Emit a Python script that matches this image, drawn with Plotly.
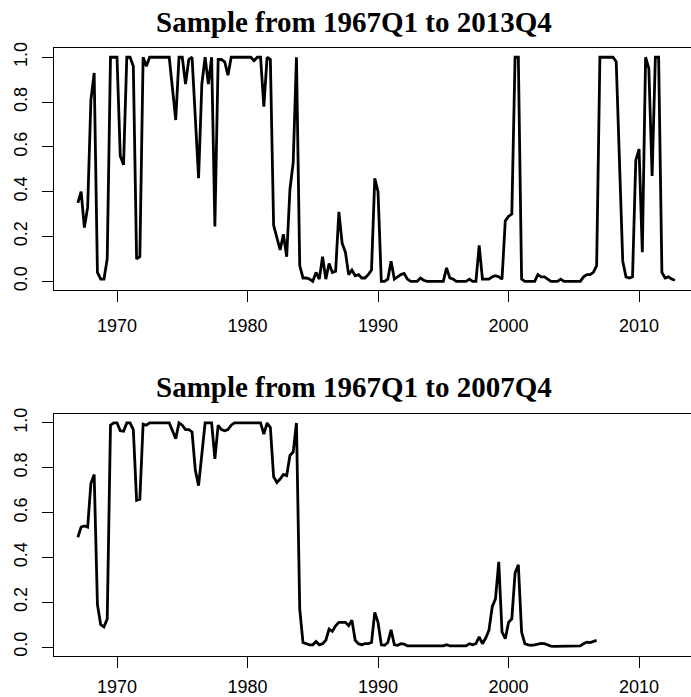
import numpy as np
import plotly.graph_objects as go

# Probability series, quarterly from 1967Q1
start_year = 1967.0
titles = ["Sample from 1967Q1 to 2013Q4", "Sample from 1967Q1 to 2007Q4"]

full_sample = [
    0.35, 0.40, 0.24, 0.33, 0.81, 0.93, 0.04, 0.01, 0.01, 0.10,   # 1967-1969
    1.00, 1.00, 1.00, 0.56, 0.52, 1.00, 1.00, 0.96, 0.10, 0.11,   # 1969Q3-1971Q4
    1.00, 0.96, 1.00, 1.00, 1.00, 1.00, 1.00, 1.00, 1.00, 0.86,   # 1972-1974Q2
    0.72, 1.00, 1.00, 0.88, 0.99, 1.00, 0.73, 0.46, 0.88, 1.00,   # 1974Q3-1976Q4
    0.88, 1.00, 0.245, 0.99, 0.99, 0.98, 0.92, 1.00, 1.00, 1.00,  # 1977-1979Q2
    1.00, 1.00, 1.00, 1.00, 0.985, 1.00, 1.00, 0.78, 1.00, 0.99,  # 1979Q3-1981Q4
    0.25, 0.19, 0.14, 0.21, 0.11, 0.41, 0.53, 1.00, 0.07, 0.015,  # 1982-1984Q2
    0.015, 0.01, 0.00, 0.04, 0.01, 0.11, 0.01, 0.08, 0.04, 0.045, # 1984Q3-1986Q4
    0.31, 0.17, 0.13, 0.03, 0.05, 0.025, 0.03, 0.015, 0.015, 0.03,# 1987-1989Q2
    0.05, 0.46, 0.40, 0.00, 0.00, 0.01, 0.09, 0.01, 0.02, 0.03,   # 1989Q3-1991Q4
    0.035, 0.01, 0.00, 0.00, 0.00, 0.015, 0.005, 0.00, 0.00, 0.00,# 1992-1994Q2
    0.00, 0.00, 0.00, 0.06, 0.015, 0.01, 0.00, 0.00, 0.00, 0.00,  # 1994Q3-1996Q4
    0.01, 0.00, 0.00, 0.16, 0.01, 0.01, 0.01, 0.02, 0.025, 0.02,  # 1997-1999Q2
    0.01, 0.27, 0.29, 0.30, 1.00, 1.00, 0.01, 0.00, 0.00, 0.00,   # 1999Q3-2001Q4
    0.00, 0.03, 0.02, 0.02, 0.01, 0.00, 0.00, 0.00, 0.01, 0.00,   # 2002-2004Q2
    0.00, 0.00, 0.00, 0.00, 0.00, 0.02, 0.03, 0.03, 0.04, 0.07,   # 2004Q3-2006Q4
    1.00, 1.00, 1.00, 1.00, 1.00, 0.98, 0.50, 0.09, 0.02, 0.015,  # 2007-2009Q2
    0.02, 0.54, 0.59, 0.13, 1.00, 0.95, 0.47, 1.00, 1.00, 0.04,   # 2009Q3-2011Q4
    0.015, 0.02, 0.01, 0.005,                                      # 2012
]

pre_crisis_sample = [
    0.49, 0.535, 0.54, 0.535, 0.73, 0.77, 0.19, 0.10, 0.09, 0.125,
    0.99, 1.00, 1.00, 0.965, 0.963, 1.00, 1.00, 0.97, 0.655, 0.66,
    0.995, 0.99, 1.00, 1.00, 1.00, 1.00, 1.00, 1.00, 1.00, 0.965,
    0.93, 1.00, 0.99, 0.97, 0.97, 0.96, 0.79, 0.72, 0.87, 1.00,
    1.00, 1.00, 0.84, 0.99, 0.97, 0.965, 0.97, 0.99, 1.00, 1.00,
    1.00, 1.00, 1.00, 1.00, 1.00, 1.00, 1.00, 0.95, 1.00, 0.98,
    0.76, 0.735, 0.75, 0.77, 0.765, 0.855, 0.87, 1.00, 0.17, 0.02,
    0.015, 0.01, 0.01, 0.025, 0.01, 0.015, 0.03, 0.08, 0.07, 0.095,
    0.11, 0.11, 0.11, 0.095, 0.12, 0.03, 0.015, 0.01, 0.015, 0.015,
    0.02, 0.155, 0.11, 0.01, 0.008, 0.02, 0.077, 0.01, 0.008, 0.015,
    0.013, 0.005, 0.005, 0.005, 0.005, 0.005, 0.005, 0.005, 0.005, 0.005,
    0.005, 0.005, 0.005, 0.01, 0.005, 0.005, 0.005, 0.005, 0.005, 0.005,
    0.015, 0.01, 0.015, 0.045, 0.015, 0.04, 0.075, 0.18, 0.215, 0.38,
    0.067, 0.037, 0.11, 0.126, 0.33, 0.367, 0.067, 0.015, 0.01, 0.008,
    0.01, 0.013, 0.016, 0.015, 0.01, 0.004, 0.003, 0.003, 0.003, 0.003,
    0.003, 0.003, 0.003, 0.003, 0.005, 0.015, 0.022, 0.02, 0.025, 0.03,
]

x_ticks = [1970, 1980, 1990, 2000, 2010]
x_tick_labels = ["1970", "1980", "1990", "2000", "2010"]
y_ticks = [0.0, 0.2, 0.4, 0.6, 0.8, 1.0]
y_tick_labels = ["0.0", "0.2", "0.4", "0.6", "0.8", "1.0"]

W, H = 691, 697


def quarters(n):
    return start_year + np.arange(n) / 4.0


fig = go.Figure()
fig.add_trace(go.Scatter(x=quarters(len(full_sample)), y=full_sample, mode="lines",
                         line=dict(color="black", width=2.8), xaxis="x", yaxis="y",
                         showlegend=False))
fig.add_trace(go.Scatter(x=quarters(len(pre_crisis_sample)), y=pre_crisis_sample, mode="lines",
                         line=dict(color="black", width=2.8), xaxis="x2", yaxis="y2",
                         showlegend=False))

tick_font = dict(family="Liberation Sans, Arial, sans-serif", size=18, color="black")
xr = [1965.172, 2013.98]
yr = [-0.04, 1.04]
x_dom = [54 / W, 1.0]
top_dom = [1 - 290.3 / H, 1 - 48.3 / H]
bot_dom = [1 - 656.0 / H, 1 - 414.0 / H]

common_x = dict(range=xr, domain=x_dom, tickmode="array", tickvals=x_ticks, ticktext=x_tick_labels,
                ticks="outside", ticklen=11, tickwidth=1.3, tickcolor="black",
                showline=True, linecolor="black", linewidth=1.3, mirror=True,
                showgrid=False, zeroline=False, tickfont=tick_font, automargin=False,
                fixedrange=True)
common_y = dict(range=yr, tickmode="array", tickvals=y_ticks, ticktext=y_tick_labels,
                ticks="outside", ticklen=11, tickwidth=1.3, tickcolor="black",
                showline=True, linecolor="black", linewidth=1.3, mirror=False,
                showgrid=False, zeroline=False, tickfont=tick_font, tickangle=-90,
                automargin=False, ticklabelstandoff=8, fixedrange=True)

fig.update_layout(
    width=W, height=H,
    margin=dict(l=0, r=0, t=0, b=0),
    paper_bgcolor="white", plot_bgcolor="white",
    xaxis=dict(common_x, anchor="y", ticklabelstandoff=8),
    yaxis=dict(common_y, domain=top_dom, anchor="x"),
    xaxis2=dict(common_x, anchor="y2", ticklabelstandoff=3),
    yaxis2=dict(common_y, domain=bot_dom, anchor="x2"),
)

title_font = dict(family="Liberation Serif, Times New Roman, serif", size=29, color="black")
for txt, ypx in zip(titles, [21.7, 387.4]):
    fig.add_annotation(text="<b>" + txt + "</b>", xref="paper", yref="paper",
                       x=353.7 / W, y=1 - ypx / H, xanchor="center", yanchor="middle",
                       showarrow=False, font=title_font)

fig.write_html("out.html", config={"displayModeBar": False},
               post_script="document.body.style.margin='0';document.body.style.overflow='hidden';")
